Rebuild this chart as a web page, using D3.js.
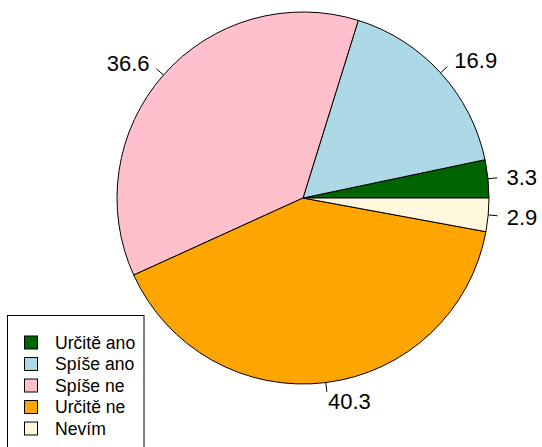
<!DOCTYPE html>
<html>
<head>
<meta charset="utf-8">
<script src="https://cdn.jsdelivr.net/npm/d3@7"></script>
<style>
  body { margin: 0; background: #fff; }
  svg { display: block; font-family: "Liberation Sans", Arial, sans-serif; }
</style>
</head>
<body>
<div id="chart"></div>
<script>
// answers and shares (percent), in R pie order (counter-clockwise from 3 o'clock)
const categories = ["Určitě ano", "Spíše ano", "Spíše ne", "Určitě ne", "Nevím"];
const values = [3.3, 16.9, 36.6, 40.3, 2.9];
const labels = ["3.3", "16.9", "36.6", "40.3", "2.9"];
const colors = ["#006400", "#ADD8E6", "#FFC0CB", "#FFA500", "#FFF8DC"];

const svgWidth = 542;
const svgHeight = 447;
const cx = 303, cy = 198, radius = 186;

const svg = d3.select("#chart")
    .append("svg")
    .attr("width", svgWidth)
    .attr("height", svgHeight);

const data = categories.map((c, i) => ({ name: c, value: values[i], label: labels[i], color: colors[i] }));

// R draws from east going counter-clockwise
const pie = d3.pie()
    .sort(null)
    .value(d => d.value)
    .startAngle(Math.PI / 2)
    .endAngle(Math.PI / 2 - 2 * Math.PI);

const arcs = pie(data);
const arc = d3.arc().innerRadius(0).outerRadius(radius);

const chart = svg.append("g")
    .attr("transform", `translate(${cx},${cy})`);

chart.selectAll("path.slice")
    .data(arcs)
    .join("path")
    .attr("class", "slice")
    .attr("d", arc)
    .attr("fill", d => d.data.color)
    .attr("stroke", "#000")
    .attr("stroke-width", 1);

const mid = d => (d.startAngle + d.endAngle) / 2;

// little tick marks from the rim outwards
chart.selectAll("line.tick")
    .data(arcs)
    .join("line")
    .attr("class", "tick")
    .attr("x1", d => Math.sin(mid(d)) * radius)
    .attr("y1", d => -Math.cos(mid(d)) * radius)
    .attr("x2", d => Math.sin(mid(d)) * radius * 1.05)
    .attr("y2", d => -Math.cos(mid(d)) * radius * 1.05)
    .attr("stroke", "#000")
    .attr("stroke-width", 1);

chart.selectAll("text.lab")
    .data(arcs)
    .join("text")
    .attr("class", "lab")
    .attr("x", d => Math.sin(mid(d)) * radius * 1.1)
    .attr("y", d => -Math.cos(mid(d)) * radius * 1.1)
    .attr("dy", "0.36em")
    .attr("text-anchor", d => Math.sin(mid(d)) > 0 ? "start" : "end")
    .attr("font-size", 22)
    .attr("fill", "#000")
    .text(d => d.data.label);

// legend, bottom left (box runs off the bottom edge)
const legend = svg.append("g");
const rowH = 21.5, firstRow = 342.5;

legend.append("rect")
    .attr("x", 7.5)
    .attr("y", 315.5)
    .attr("width", 136.5)
    .attr("height", 145)
    .attr("fill", "#fff")
    .attr("stroke", "#000")
    .attr("stroke-width", 1);

legend.selectAll("rect.key")
    .data(data)
    .join("rect")
    .attr("class", "key")
    .attr("x", 24.5)
    .attr("y", (d, i) => firstRow + i * rowH - 6.5)
    .attr("width", 13)
    .attr("height", 13)
    .attr("fill", d => d.color)
    .attr("stroke", "#000")
    .attr("stroke-width", 1);

legend.selectAll("text.key")
    .data(data)
    .join("text")
    .attr("class", "key")
    .attr("x", 55)
    .attr("y", (d, i) => firstRow + i * rowH)
    .attr("dy", "0.36em")
    .attr("font-size", 17.6)
    .attr("fill", "#000")
    .text(d => d.name);
</script>
</body>
</html>
